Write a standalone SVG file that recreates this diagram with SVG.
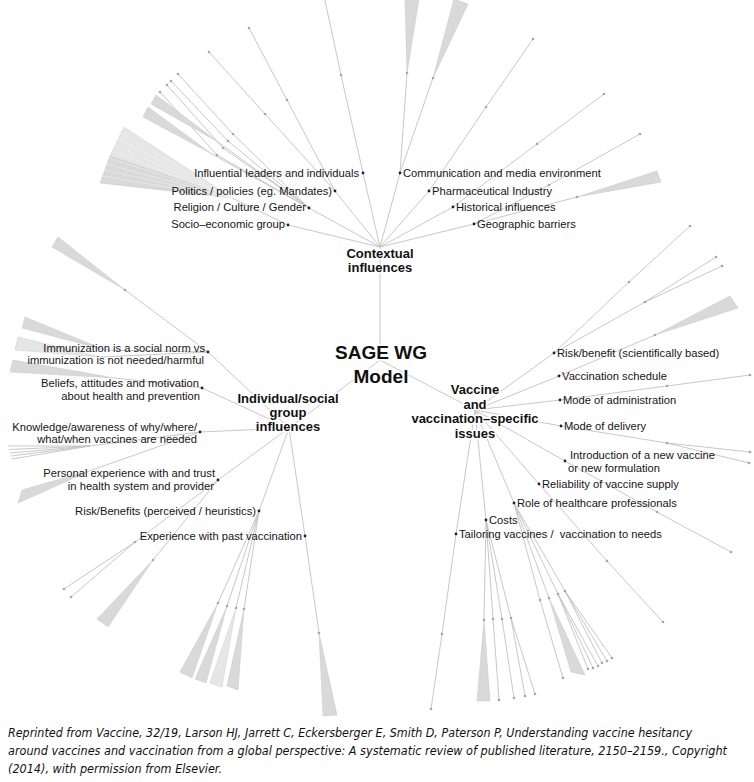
<svg xmlns="http://www.w3.org/2000/svg" width="754" height="782" viewBox="0 0 754 782">
<style>
.ln{stroke:#c2c2c2;stroke-width:0.9;fill:none}
.wg{fill:#d9d9d9;stroke:#c6c6c6;stroke-width:0.5}
.wl{fill:#e6e6e6;stroke:#cccccc;stroke-width:0.5}
.fl{stroke:#f4f4f4;stroke-width:0.5}
.d{fill:#a6a6a6}
.dm{fill:#222}
.lb{font-family:"Liberation Sans",Arial,sans-serif;font-size:11.2px;fill:#151515}
.e{text-anchor:end}
.hb{font-family:"Liberation Sans",Arial,sans-serif;font-weight:bold;font-size:13px;fill:#111;text-anchor:middle;stroke:#fff;stroke-width:3;stroke-linejoin:round;paint-order:stroke}
.cap{font-family:"DejaVu Sans","Liberation Sans",sans-serif;font-style:italic;font-size:11.5px;fill:#111}
</style>
<rect width="754" height="782" fill="#fff"/>
<g id="connectors">
<path class="ln" d="M380,360L380,247M380,360L289,428M380,360L475,410"/>
<path class="ln" d="M380,247L363,173M380,247L335,191M380,247L309,208M380,247L288,225M380,247L400,173M380,247L429,191M380,247L453,207M380,247L474,224"/>
<polyline class="ln" points="363,173 341,75 324.5,-2"/>
<polyline class="ln" points="335,191 287,100 249,28"/>
<polyline class="ln" points="335,191 265,114 209,52"/>
<polyline class="ln" points="309,208 233,134 178,74"/>
<polyline class="ln" points="309,208 228,141 171,81"/>
<polyline class="ln" points="309,208 223,148 167,85"/>
<polyline class="ln" points="309,208 217,155 160,92"/>
<path class="ln" d="M309,208L218,142M309,208L212,154"/>
<polygon class="wg" points="218,142 156,95 151,104"/>
<polygon class="wg" points="212,154 148,107 143,117"/>
<path class="ln" d="M288,225L232,198"/>
<polygon class="wl" points="232,198 124,127 110,156"/>
<polygon class="wg" points="232,198 110,156 100,183"/>
<path class="fl" d="M232,198L121,133M232,198L118,139M232,198L115,145M232,198L112,151M232,198L109,158M232,198L106,164M232,198L104,170M232,198L102,176"/>
<path class="ln" d="M400,173L407,73M400,173L433,78"/>
<polygon class="wg" points="407,73 405,-1 419,-1"/>
<polygon class="wg" points="433,78 454,-1 468,4"/>
<polyline class="ln" points="429,191 486,107 533,39"/>
<polyline class="ln" points="453,207 537,144 604,94"/>
<polyline class="ln" points="474,224 549,185 640,134"/>
<path class="ln" d="M474,224L577,197"/>
<polygon class="wg" points="577,197 657,171 661,182"/>
<path class="ln" d="M475,410L554,353M475,410L559,376M475,410L560,400M475,410L561,426M475,410L565,461M475,410L539,484M475,410L514,503M475,410L486,520M475,410L456,534"/>
<polyline class="ln" points="554,353 629,282 690,226"/>
<polyline class="ln" points="554,353 645,302 716,257"/>
<path class="ln" d="M645,302L722,266"/>
<path class="ln" d="M559,376L655,335"/>
<polygon class="wg" points="655,335 730,296 738,308"/>
<polyline class="ln" points="560,400 667,386 750,375"/>
<polyline class="ln" points="561,426 667,443 750,452"/>
<path class="ln" d="M667,443L749,463"/>
<polyline class="ln" points="565,461 657,512 731,552"/>
<polyline class="ln" points="539,484 607,561 663,622"/>
<polyline class="ln" points="514,503 540,600 563,678"/>
<path class="ln" d="M514,503L549,598M514,503L558,594L588,669M558,594L593,668M558,594L598,666M514,503L565,591L602,663M565,591L607,661M565,591L612,658"/>
<polygon class="wg" points="549,598 571,672 585,675"/>
<path class="ln" d="M486,520L484,620M486,520L493,619L499,700M486,520L502,619L514,698M486,520L511,618L525,696M511,618L535,694"/>
<polygon class="wg" points="484,620 477,701 490,701"/>
<polyline class="ln" points="456,534 442,634 431,709"/>
<path class="ln" d="M289,428L208,352M289,428L202,388M289,428L200,432M289,428L218,480M289,428L259,511M289,428L305,536"/>
<path class="ln" d="M208,352L125,290M208,352L105,350M208,352L100,357"/>
<polygon class="wg" points="125,290 58,237 52,247"/>
<polygon class="wg" points="105,350 25,317 22,328"/>
<polygon class="wl" points="100,357 18,337 15,350"/>
<path class="ln" d="M202,388L115,378"/>
<polygon class="wg" points="115,378 13,360 10,372"/>
<path class="ln" d="M200,432L90,446M200,432L92,470"/>
<path class="ln" d="M90,446L8,446M90,446L9,449.5M90,446L10,453M90,446L11,456M90,446L12,459"/>
<polygon class="wg" points="92,470 22,490 18,503"/>
<polyline class="ln" points="218,480 135,542 64,589"/>
<path class="ln" d="M135,542L71,597M218,480L153,560"/>
<polygon class="wg" points="153,560 97,619 108,627"/>
<path class="ln" d="M259,511L218,603M259,511L227,606M259,511L236,608M259,511L244,609"/>
<polygon class="wg" points="218,603 180,672 192,678"/>
<polygon class="wg" points="227,606 195,679 206,683"/>
<polygon class="wl" points="236,608 210,683 222,687"/>
<polygon class="wg" points="244,609 227,686 238,690"/>
<polyline class="ln" points="305,536 319,633"/>
<polygon class="wg" points="319,633 323,716 337,715"/>
</g>
<g id="minor-nodes" class="d">
<circle cx="341" cy="75" r="1.3"/><circle cx="287" cy="100" r="1.3"/><circle cx="249" cy="28" r="1.3"/><circle cx="265" cy="114" r="1.3"/><circle cx="209" cy="52" r="1.3"/>
<circle cx="233" cy="134" r="1.3"/><circle cx="228" cy="141" r="1.3"/><circle cx="223" cy="148" r="1.3"/><circle cx="217" cy="155" r="1.3"/>
<circle cx="178" cy="74" r="1.3"/><circle cx="171" cy="81" r="1.3"/><circle cx="167" cy="85" r="1.3"/><circle cx="160" cy="92" r="1.3"/>
<circle cx="407" cy="73" r="1.3"/><circle cx="433" cy="78" r="1.3"/><circle cx="486" cy="107" r="1.3"/><circle cx="533" cy="39" r="1.3"/>
<circle cx="537" cy="144" r="1.3"/><circle cx="604" cy="94" r="1.3"/><circle cx="549" cy="185" r="1.3"/><circle cx="640" cy="134" r="1.3"/><circle cx="577" cy="197" r="1.3"/>
<circle cx="629" cy="282" r="1.3"/><circle cx="690" cy="226" r="1.3"/><circle cx="645" cy="302" r="1.3"/><circle cx="716" cy="257" r="1.3"/><circle cx="722" cy="266" r="1.3"/>
<circle cx="655" cy="335" r="1.3"/><circle cx="667" cy="386" r="1.3"/><circle cx="750" cy="375" r="1.3"/><circle cx="667" cy="443" r="1.3"/><circle cx="750" cy="452" r="1.3"/><circle cx="749" cy="463" r="1.3"/>
<circle cx="657" cy="512" r="1.3"/><circle cx="731" cy="552" r="1.3"/><circle cx="607" cy="561" r="1.3"/><circle cx="663" cy="622" r="1.3"/>
<circle cx="540" cy="600" r="1.3"/><circle cx="549" cy="598" r="1.3"/><circle cx="558" cy="594" r="1.3"/><circle cx="565" cy="591" r="1.3"/><circle cx="563" cy="678" r="1.3"/>
<circle cx="588" cy="669" r="1.3"/><circle cx="593" cy="668" r="1.3"/><circle cx="598" cy="666" r="1.3"/><circle cx="602" cy="663" r="1.3"/><circle cx="607" cy="661" r="1.3"/><circle cx="612" cy="658" r="1.3"/>
<circle cx="484" cy="620" r="1.3"/><circle cx="493" cy="619" r="1.3"/><circle cx="502" cy="619" r="1.3"/><circle cx="511" cy="618" r="1.3"/>
<circle cx="499" cy="700" r="1.3"/><circle cx="514" cy="698" r="1.3"/><circle cx="525" cy="696" r="1.3"/><circle cx="535" cy="694" r="1.3"/>
<circle cx="442" cy="634" r="1.3"/><circle cx="431" cy="709" r="1.3"/>
<circle cx="125" cy="290" r="1.3"/><circle cx="135" cy="542" r="1.3"/><circle cx="64" cy="589" r="1.3"/><circle cx="71" cy="597" r="1.3"/><circle cx="153" cy="560" r="1.3"/>
<circle cx="218" cy="603" r="1.3"/><circle cx="227" cy="606" r="1.3"/><circle cx="236" cy="608" r="1.3"/><circle cx="244" cy="609" r="1.3"/><circle cx="319" cy="633" r="1.3"/>
</g>
<g id="sage-wg-model"><text class="hb" x="381" y="359" style="font-size:19px">SAGE WG</text><text class="hb" x="381" y="383" style="font-size:19px">Model</text></g>
<g id="contextual-influences"><text class="hb" x="380" y="258">Contextual</text><text class="hb" x="380" y="272">influences</text></g>
<g id="individual-social"><text class="hb" x="288" y="403">Individual/social</text><text class="hb" x="288" y="417">group</text><text class="hb" x="288" y="431">influences</text></g>
<g id="vaccine-specific"><text class="hb" x="475" y="394">Vaccine</text><text class="hb" x="475" y="409">and</text><text class="hb" x="475" y="423">vaccination–specific</text><text class="hb" x="475" y="438">issues</text></g>
<g id="influential"><circle class="dm" cx="363" cy="173" r="1.4"/><text class="lb e" x="359" y="177">Influential leaders and individuals</text></g>
<g id="politics"><circle class="dm" cx="335" cy="191" r="1.4"/><text class="lb e" x="332" y="195">Politics / policies (eg. Mandates)</text></g>
<g id="religion"><circle class="dm" cx="309" cy="208" r="1.4"/><text class="lb e" x="306" y="211">Religion / Culture / Gender</text></g>
<g id="socio"><circle class="dm" cx="288" cy="225" r="1.4"/><text class="lb e" x="285" y="228">Socio–economic group</text></g>
<g id="communication"><circle class="dm" cx="400" cy="173" r="1.4"/><text class="lb" x="403" y="177">Communication and media environment</text></g>
<g id="pharma"><circle class="dm" cx="429" cy="191" r="1.4"/><text class="lb" x="432" y="195">Pharmaceutical Industry</text></g>
<g id="historical"><circle class="dm" cx="453" cy="207" r="1.4"/><text class="lb" x="456" y="211">Historical influences</text></g>
<g id="geographic"><circle class="dm" cx="474" cy="224" r="1.4"/><text class="lb" x="477" y="228">Geographic barriers</text></g>
<g id="risk-benefit"><circle class="dm" cx="554" cy="353" r="1.4"/><text class="lb" x="557" y="357">Risk/benefit (scientifically based)</text></g>
<g id="schedule"><circle class="dm" cx="559" cy="376" r="1.4"/><text class="lb" x="562" y="380">Vaccination schedule</text></g>
<g id="administration"><circle class="dm" cx="560" cy="400" r="1.4"/><text class="lb" x="563" y="404">Mode of administration</text></g>
<g id="delivery"><circle class="dm" cx="561" cy="426" r="1.4"/><text class="lb" x="564" y="430">Mode of delivery</text></g>
<g id="introduction"><circle class="dm" cx="565" cy="461" r="1.4"/><text class="lb" x="570" y="459">Introduction of a new vaccine</text><text class="lb" x="568" y="472">or new formulation</text></g>
<g id="reliability"><circle class="dm" cx="539" cy="484" r="1.4"/><text class="lb" x="542" y="488">Reliability of vaccine supply</text></g>
<g id="role"><circle class="dm" cx="514" cy="503" r="1.4"/><text class="lb" x="517" y="507">Role of healthcare professionals</text></g>
<g id="costs"><circle class="dm" cx="486" cy="520" r="1.4"/><text class="lb" x="489" y="524">Costs</text></g>
<g id="tailoring"><circle class="dm" cx="456" cy="534" r="1.4"/><text class="lb" x="459" y="538">Tailoring vaccines /&#160; vaccination to needs</text></g>
<g id="immunization"><circle class="dm" cx="208" cy="352" r="1.4"/><text class="lb e" x="205" y="352">Immunization is a social norm vs</text><text class="lb e" x="204" y="364">immunization is not needed/harmful</text></g>
<g id="beliefs"><circle class="dm" cx="202" cy="388" r="1.4"/><text class="lb e" x="199" y="387">Beliefs, attitudes and motivation</text><text class="lb e" x="200" y="400">about health and prevention</text></g>
<g id="knowledge"><circle class="dm" cx="200" cy="432" r="1.4"/><text class="lb e" x="197" y="431">Knowledge/awareness of why/where/</text><text class="lb e" x="197" y="443">what/when vaccines are needed</text></g>
<g id="personal"><circle class="dm" cx="218" cy="480" r="1.4"/><text class="lb e" x="215" y="477">Personal experience with and trust</text><text class="lb e" x="214" y="490">in health system and provider</text></g>
<g id="risk-perceived"><circle class="dm" cx="259" cy="511" r="1.4"/><text class="lb e" x="256" y="515">Risk/Benefits (perceived / heuristics)</text></g>
<g id="experience"><circle class="dm" cx="305" cy="536" r="1.4"/><text class="lb e" x="302" y="540">Experience with past vaccination</text></g>
<g id="caption">
<text class="cap" x="8" y="737" textLength="684" lengthAdjust="spacingAndGlyphs">Reprinted from Vaccine, 32/19, Larson HJ, Jarrett C, Eckersberger E, Smith D, Paterson P, Understanding vaccine hesitancy</text>
<text class="cap" x="8" y="755" textLength="719" lengthAdjust="spacingAndGlyphs">around vaccines and vaccination from a global perspective: A systematic review of published literature, 2150–2159., Copyright</text>
<text class="cap" x="8" y="773" textLength="214" lengthAdjust="spacingAndGlyphs">(2014), with permission from Elsevier.</text>
</g>
</svg>
